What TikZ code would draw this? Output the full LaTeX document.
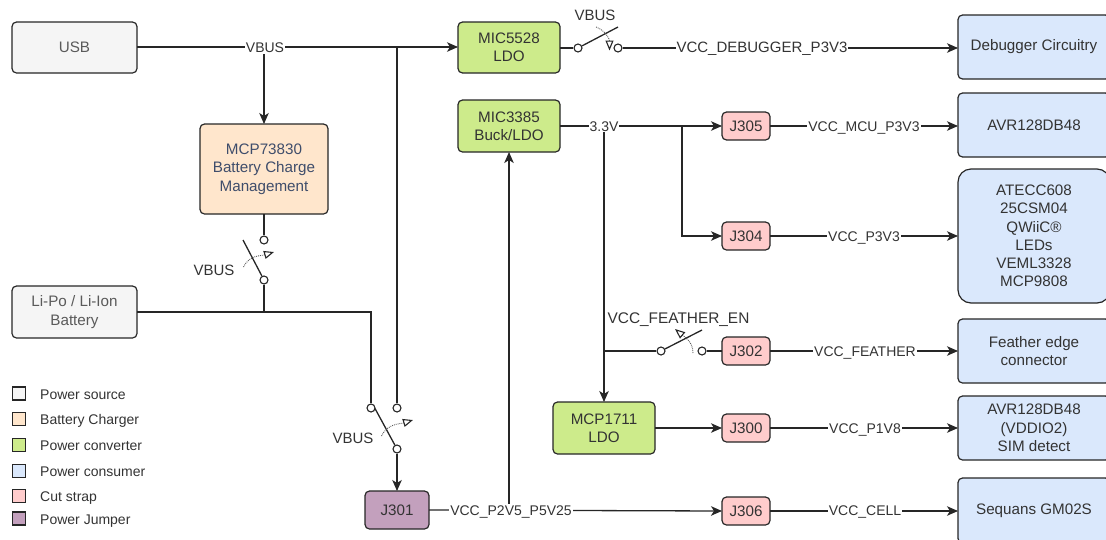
\documentclass[tikz,border=0pt]{standalone}
\usepackage{fontspec}
\setmainfont{Liberation Sans}
\usetikzlibrary{calc,positioning,arrows.meta}
\definecolor{srcfill}{HTML}{F5F5F5}
\definecolor{chgfill}{HTML}{FFE6CC}
\definecolor{ldofill}{HTML}{CDEB8B}
\definecolor{usefill}{HTML}{DAE8FC}
\definecolor{cutfill}{HTML}{FFCCCC}
\definecolor{jmpfill}{HTML}{C3A0BD}
\definecolor{txtgrey}{HTML}{333333}
\definecolor{txtsrc}{HTML}{5A5A5A}
\definecolor{txtblue}{HTML}{3F4D6B}
\tikzset{
  blockbox/.style={draw=black!85,line width=1.2pt,rounded corners=4.5pt,inner sep=0pt,outer sep=0pt,align=center,text=txtgrey,font=\fontsize{15.2}{18.3}\selectfont},
  wire/.style={black!85,line width=1.3pt},
  feed/.style={wire,-{Stealth[length=11pt,width=9.5pt,inset=3pt]}},
  contact/.style={circle,draw=black!85,line width=1.1pt,fill=white,minimum size=8pt,inner sep=0pt},
  netname/.style={fill=white,inner sep=1pt,text=txtgrey,text height=10pt,text depth=0pt,font=\fontsize{14}{16}\selectfont},
  swname/.style={text=txtgrey,inner sep=0pt,text height=10pt,text depth=0pt,font=\fontsize{15}{16}\selectfont},
  actuate/.style={black!65,line width=.9pt,densely dotted,-{Triangle[open,fill=white,color=black!85,line width=1.1pt,length=10pt,width=8pt]}},
  keybox/.style={draw=black!85,line width=1.2pt,minimum size=13pt,inner sep=0pt,outer sep=0pt},
  keyname/.style={text=txtgrey,inner sep=0pt,anchor=west,text height=11pt,text depth=0pt,font=\fontsize{14}{16}\selectfont}
}
\newcommand{\blockat}[7]{% name, fill, left, top, right, bottom, text
  \node[blockbox,fill=#2,minimum width={(#5-#3)*1pt},minimum height={(#6-#4)*1pt},anchor=north west] (#1) at (#3,#4) {#7};}
\begin{document}
\begin{tikzpicture}[x=1pt,y=-1pt]
  \useasboundingbox (0,0) rectangle (1106,539);
  % sources and chargers
  \blockat{usb}{srcfill}{12}{22}{137}{73}{\color{txtsrc}USB}
  \blockat{lipo}{srcfill}{12}{286}{137}{338}{\color{txtsrc}Li-Po / Li-Ion\\\color{txtsrc}Battery}
  \blockat{mcp73830}{chgfill}{200}{124}{328}{214}{\color{txtblue}MCP73830\\\color{txtblue}Battery Charge\\\color{txtblue}Management}
  % converters
  \blockat{mic5528}{ldofill}{458}{22}{560}{73}{MIC5528\\LDO}
  \blockat{mic3385}{ldofill}{458}{100}{560}{152}{MIC3385\\Buck/LDO}
  \blockat{mcp1711}{ldofill}{553}{402}{655}{454}{MCP1711\\LDO}
  % straps
  \blockat{jthree}{cutfill}{722}{112}{770}{140}{J305}
  \blockat{jfour}{cutfill}{722}{222}{770}{250}{J304}
  \blockat{jtwo}{cutfill}{722}{337}{770}{365}{J302}
  \blockat{jzero}{cutfill}{722}{414}{770}{442}{J300}
  \blockat{jsix}{cutfill}{722}{497}{770}{525}{J306}
  \blockat{jone}{jmpfill}{365}{491}{429}{529}{J301}
  % consumers
  \blockat{debugger}{usefill}{958}{15}{1110}{79}{Debugger Circuitry}
  \blockat{avr}{usefill}{958}{93}{1110}{157}{AVR128DB48}
  \node[blockbox,rounded corners=13pt,fill=usefill,minimum width=152pt,minimum height=134pt,anchor=north west] (periph) at (958,169)
    {ATECC608\\25CSM04\\QWiiC®\\LEDs\\VEML3328\\MCP9808};
  \blockat{feather}{usefill}{958}{319}{1110}{383}{Feather edge\\connector}
  \blockat{vddio}{usefill}{958}{396}{1110}{460}{AVR128DB48\\(VDDIO2)\\SIM detect}
  \blockat{sequans}{usefill}{958}{478}{1110}{543}{Sequans GM02S}
  % switch contacts
  \node[contact] (chgtop) at (264,240) {};
  \node[contact] (chgbot) at (264,280) {};
  \node[contact] (selbat) at (371,408) {};
  \node[contact] (selusb) at (397,408) {};
  \node[contact] (selout) at (397,449) {};
  \node[contact] (dbgin) at (578,48) {};
  \node[contact] (dbgout) at (618,48) {};
  \node[contact] (feain) at (661,351) {};
  \node[contact] (feaout) at (702,351) {};
  % junctions
  \coordinate (usbtee) at (264,47);
  \coordinate (usbdrop) at (397,47);
  \coordinate (battee) at (264,312);
  \coordinate (batcorner) at (371,312);
  \coordinate (railtee) at (604,126);
  \coordinate (railtap) at (682,126);
  \coordinate (railfea) at (604,351);
  \coordinate (celltee) at (509,510);
  % wires
  \draw[feed] (usb.east |- usbtee) -- (mic5528.west |- usbtee);
  \draw[feed] (usbtee) -- (usbtee |- mcp73830.north);
  \draw[wire] (usbdrop) -- (selusb);
  \draw[wire] (chgtop |- mcp73830.south) -- (chgtop);
  \draw[wire] (chgbot) -- (battee);
  \draw[wire] (lipo.east) -- (batcorner) -- (selbat);
  \draw[feed] (selout) -- (selout |- jone.north);
  \draw[feed] (jone.east) -- (jsix.west);
  \draw[feed] (celltee) -- (celltee |- mic3385.south);
  \draw[wire] (mic5528.east |- dbgin) -- (dbgin);
  \draw[feed] (dbgout) -- (debugger.west |- dbgout);
  \draw[feed] (mic3385.east |- jthree.west) -- (jthree.west);
  \draw[feed] (railtap) |- (jfour.west);
  \draw[feed] (railtee) -- (railtee |- mcp1711.north);
  \draw[wire] (railfea) -- (feain);
  \draw[wire] (feaout) -- (jtwo.west);
  \draw[feed] (mcp1711.east |- jzero.west) -- (jzero.west);
  \draw[feed] (jthree.east) -- (jthree.east -| avr.west);
  \draw[feed] (jfour.east) -- (jfour.east -| periph.west);
  \draw[feed] (jtwo.east) -- (jtwo.east -| feather.west);
  \draw[feed] (jzero.east) -- (jzero.east -| vddio.west);
  \draw[feed] (jsix.east) -- (jsix.east -| sequans.west);
  % switch blades
  \draw[wire] (chgbot) -- (243,240);
  \draw[wire] (selout) -- (375,408.5);
  \draw[wire] (dbgin) -- (618,27);
  \draw[wire] (feain) -- (702,330);
  % actuators
  \draw[actuate] (243.5,267) to[out=65,in=197] (274,252);
  \draw[actuate] (381.5,436) to[out=65,in=197] (413,420);
  \draw[actuate] (596,27) to[out=-20,in=90] (609.5,50.5);
  \draw[actuate] (693,353) to[out=90,in=-40] (675,329);
  % net labels
  \node[netname] (vbusnet) at (265,47.5) {VBUS};
  \node[netname] (net33) at (railtee) {3.3V};
  \node[netname] (netcell) at (511,510) {VCC\_P2V5\_P5V25};
  \node[netname,font=\fontsize{15}{16}\selectfont] (netdbg) at (762,47.5) {VCC\_DEBUGGER\_P3V3};
  \node[netname] (netmcu) at (864,126) {VCC\_MCU\_P3V3};
  \node[netname] (netp3) at (864,236) {VCC\_P3V3};
  \node[netname] (netfea) at (865,351) {VCC\_FEATHER};
  \node[netname] (netp1) at (865,428) {VCC\_P1V8};
  \node[netname] (netgm) at (865,510.5) {VCC\_CELL};
  % switch labels
  \node[swname] (swchg) at (214,270) {VBUS};
  \node[swname] (swsel) at (353,438.5) {VBUS};
  \node[swname] (swdbg) at (595,15) {VBUS};
  \node[swname,font=\fontsize{15.4}{16}\selectfont] (swfea) at (678.5,318) {VCC\_FEATHER\_EN};
  % legend
  \foreach \n/\c/\y/\t in {0/srcfill/393.5/Power source,1/chgfill/419/Battery Charger,2/ldofill/445/Power converter,
    3/usefill/471/Power consumer,4/cutfill/496/Cut strap,5/jmpfill/518.5/Power Jumper}{
    \node[keybox,fill=\c] (key\n) at (19,\y) {};
    \node[keyname] (keytxt\n) at (40,\y) {\t};
  }
\end{tikzpicture}
\end{document}
